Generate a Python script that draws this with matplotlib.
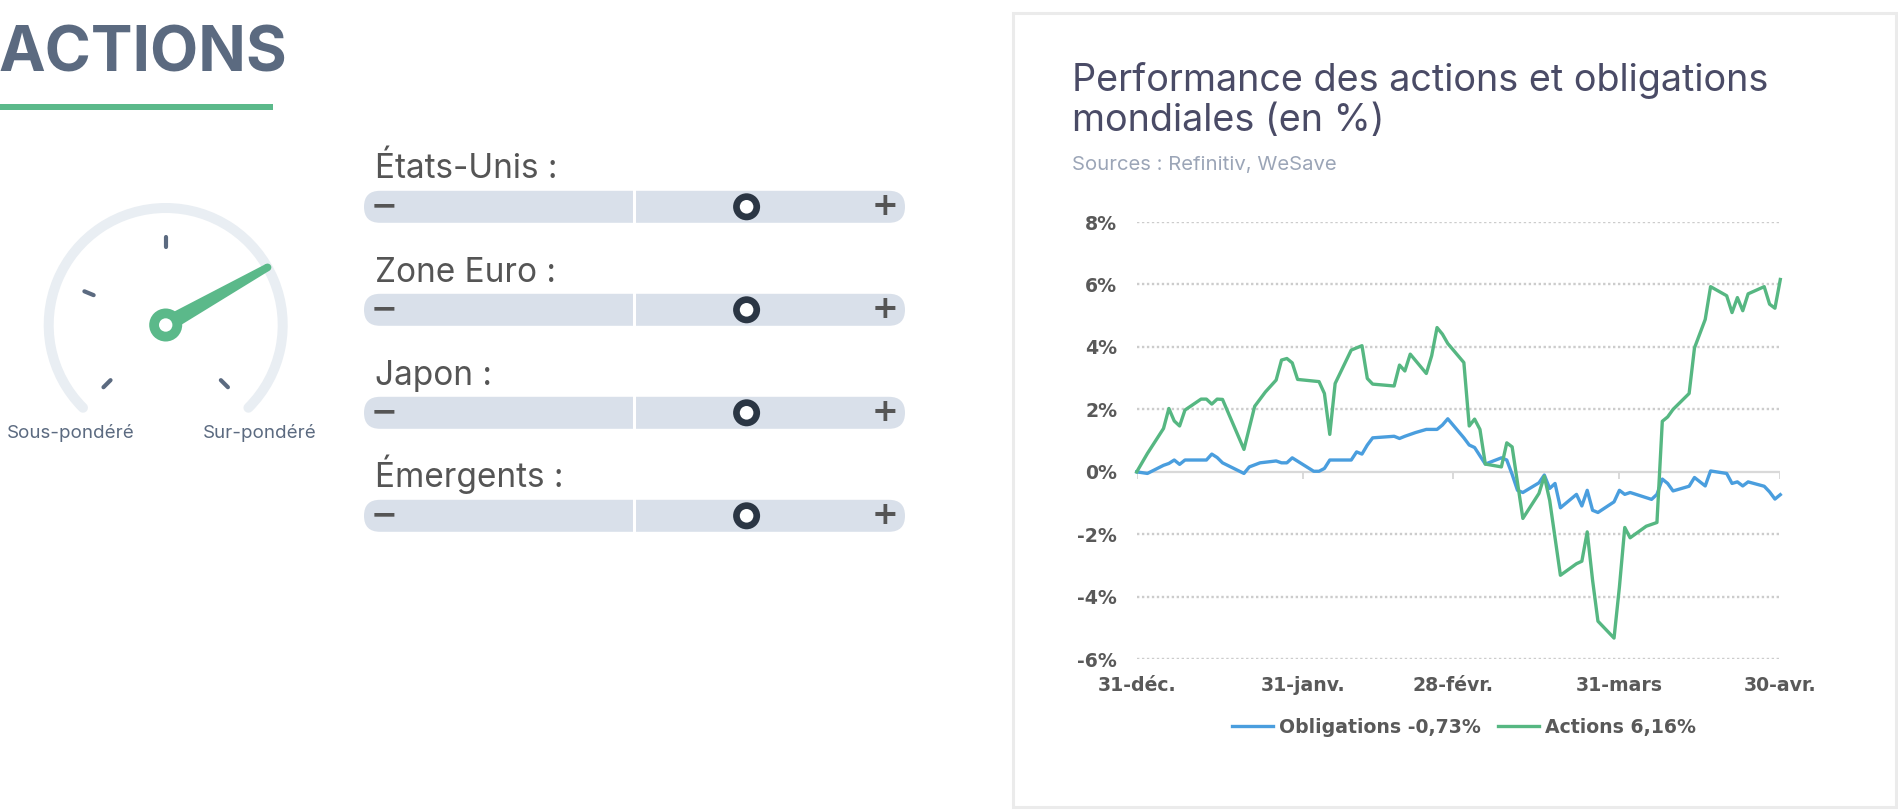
import matplotlib
matplotlib.use('Agg')
import matplotlib.pyplot as plt
from matplotlib.patches import Rectangle, FancyBboxPatch, Circle, Arc, Polygon
from matplotlib.font_manager import FontProperties
import numpy as np

# --- data (days after 31 Dec, performance in %) ---
act_days = [0, 2, 5, 6, 7, 8, 9, 12, 13, 14, 15, 16, 20, 22, 24, 26, 27, 28, 29, 30,
            34, 35, 36, 37, 40, 42, 43, 44, 48, 49, 50, 51, 54, 55, 56, 57, 58, 61, 62,
            63, 64, 65, 68, 69, 70, 72, 75, 76, 77, 79, 82, 83, 84, 85, 86, 89, 90, 91,
            92, 95, 97, 98, 99, 100, 103, 104, 106, 107, 110, 111, 112, 113, 114, 117,
            118, 119, 120]
act_vals = [0, 0.59, 1.39, 2.03, 1.63, 1.47, 1.98, 2.33, 2.33, 2.17, 2.33, 2.32, 0.72,
            2.1, 2.56, 2.94, 3.58, 3.63, 3.49, 2.96, 2.89, 2.51, 1.2, 2.83, 3.9, 4.04,
            2.99, 2.81, 2.75, 3.42, 3.23, 3.77, 3.15, 3.72, 4.62, 4.41, 4.11, 3.5, 1.47,
            1.69, 1.36, 0.25, 0.16, 0.93, 0.8, -1.49, -0.69, -0.14, -0.91, -3.31, -2.94,
            -2.86, -1.92, -3.47, -4.78, -5.32, -3.69, -1.78, -2.11, -1.74, -1.62, 1.62,
            1.76, 2.0, 2.51, 3.97, 4.88, 5.93, 5.64, 5.1, 5.58, 5.16, 5.7, 5.93, 5.37,
            5.24, 6.16]

obl_days = [0, 2, 5, 6, 7, 8, 9, 13, 14, 15, 16, 20, 21, 23, 26, 27, 28, 29, 33, 34,
            35, 36, 40, 41, 42, 43, 44, 48, 49, 50, 52, 54, 56, 57, 58, 61, 62, 63, 65,
            68, 69, 70, 71, 72, 75, 76, 77, 78, 79, 82, 83, 84, 85, 86, 89, 90, 91, 92,
            96, 97, 98, 99, 100, 103, 104, 106, 107, 110, 111, 112, 113, 114, 117, 118,
            119, 120]
obl_vals = [0, -0.05, 0.21, 0.27, 0.38, 0.24, 0.38, 0.38, 0.57, 0.46, 0.29, -0.05, 0.16,
            0.29, 0.35, 0.29, 0.29, 0.45, 0.02, 0.02, 0.11, 0.38, 0.38, 0.64, 0.57, 0.86,
            1.09, 1.14, 1.07, 1.14, 1.26, 1.36, 1.36, 1.5, 1.7, 1.09, 0.86, 0.78, 0.25,
            0.45, 0.38, -0.08, -0.59, -0.66, -0.35, -0.1, -0.53, -0.37, -1.15, -0.72,
            -1.09, -0.59, -1.23, -1.3, -0.96, -0.59, -0.72, -0.66, -0.88, -0.72, -0.23,
            -0.37, -0.61, -0.46, -0.18, -0.45, 0.03, -0.05, -0.37, -0.32, -0.45, -0.32,
            -0.46, -0.64, -0.87, -0.73]

x_ticks = [0, 31, 59, 90, 120]
x_labels = ['31-déc.', '31-janv.', '28-févr.', '31-mars', '30-avr.']
y_ticks = [-6, -4, -2, 0, 2, 4, 6, 8]
series_labels = ['Obligations -0,73%', 'Actions 6,16%']

regions = ['États-Unis :', 'Zone Euro :', 'Japon :', 'Émergents :']
gauge_ticks = [225, 157.5, 90, -45]
needle_angle = 29.5

plt.rcParams['font.family'] = ['Inter', 'DejaVu Sans']

W, H = 1898, 811
fig = plt.figure(figsize=(W / 100, H / 100), dpi=100)
fig.patch.set_facecolor('white')

# background axes in pixel units (y measured from the top through Y())
bg = fig.add_axes([0, 0, 1, 1])
bg.set_xlim(0, W)
bg.set_ylim(0, H)
bg.axis('off')


def Y(y):
    return H - y


slate = '#5b6a80'
green = '#5bb98a'

# header
bg.text(-2, Y(72), 'ACTIONS', fontsize=45, fontweight='bold', color=slate, va='baseline')
bg.add_patch(Rectangle((0, Y(110)), 273, 6, fc=green, ec='none'))

# gauge
cx, cy = 165.7, Y(325)
bg.add_patch(Arc((cx, cy), 234, 234, theta1=-45, theta2=225, color='#e9eef3',
                 lw=7.2, capstyle='round'))
for a in gauge_ticks:
    t = np.radians(a)
    bg.plot([cx + 78 * np.cos(t), cx + 88 * np.cos(t)],
            [cy + 78 * np.sin(t), cy + 88 * np.sin(t)],
            color=slate, lw=3, solid_capstyle='round')
t = np.radians(needle_angle)
ux, uy = np.cos(t), np.sin(t)
px, py = -uy, ux
tip = 117
bg.add_patch(Polygon([(cx + px * 8, cy + py * 8), (cx + ux * tip + px * 3.8, cy + uy * tip + py * 3.8),
                      (cx + ux * tip - px * 3.8, cy + uy * tip - py * 3.8), (cx - px * 8, cy - py * 8)],
                     closed=True, fc=green, ec='none'))
bg.add_patch(Circle((cx + ux * tip, cy + uy * tip), 3.8, fc=green, ec='none'))
bg.add_patch(Circle((cx, cy), 16.5, fc=green, ec='none'))
bg.add_patch(Circle((cx, cy), 6.7, fc='white', ec='none'))
bg.text(70.8, Y(438.3), 'Sous-pondéré', fontsize=13.5, color=slate, ha='center', va='baseline')
bg.text(260, Y(438.3), 'Sur-pondéré', fontsize=13.5, color=slate, ha='center', va='baseline')

# sliders
for i, name in enumerate(regions):
    mid = 206.8 + 103 * i
    base = 178.5 + 103 * i
    bg.text(375, Y(base), name, fontsize=24, color='#555555', va='baseline')
    bg.add_patch(FancyBboxPatch((364, Y(mid) - 16), 541, 32,
                                boxstyle='round,pad=0,rounding_size=16', fc='#d9e0ea', ec='none'))
    bg.plot([634, 634], [Y(mid) - 16, Y(mid) + 16], color='white', lw=2.2)
    bg.text(384.5, Y(mid), '−', fontsize=23, fontweight='bold', color='#555555',
            ha='center', va='center', family='DejaVu Sans')
    bg.text(885.3, Y(mid), '+', fontsize=23, fontweight='bold', color='#555555',
            ha='center', va='center', family='DejaVu Sans')
    bg.add_patch(Circle((746.6, Y(mid)), 13.5, fc='#2b3644', ec='none'))
    bg.add_patch(Circle((746.6, Y(mid)), 6.8, fc='white', ec='none'))

# chart card
bg.add_patch(Rectangle((1013, Y(806.7)), 883, 793.7, fc='white', ec='#ebebeb', lw=2.2))
bg.text(1071.7, Y(90.7), 'Performance des actions et obligations', fontsize=27.2,
        color='#4a4b66', va='baseline')
bg.text(1071.7, Y(130.5), 'mondiales (en %)', fontsize=27.2, color='#4a4b66', va='baseline')
bg.text(1071.7, Y(170), 'Sources : Refinitiv, WeSave', fontsize=14.6, color='#9ba5b7',
        va='baseline')

# line chart
L, R, T, B = 1136.7, 1780.3, 222, 659.3
ax = fig.add_axes([L / W, 1 - B / H, (R - L) / W, (B - T) / H])
ax.patch.set_alpha(0)
ax.set_xlim(0, 120)
ax.set_ylim(-6, 8)
for s in ax.spines.values():
    s.set_visible(False)

tick_font = FontProperties(family=['DejaVu Sans'], weight='bold', size=13.6)
for v in y_ticks:
    if v != 0:
        ax.axhline(v, color='#cccccc', lw=1.7, ls=(0, (1, 1.1)), zorder=0)
ax.axhline(0, color='#d9d9d9', lw=1.6, zorder=1)
ax.vlines(x_ticks, -0.22, 0, color='#d9d9d9', lw=1.4, zorder=1)

ax.plot(obl_days, obl_vals, color='#4a9ede', lw=2.4, label=series_labels[0], clip_on=False, zorder=3)
ax.plot(act_days, act_vals, color='#56b782', lw=2.4, label=series_labels[1], clip_on=False, zorder=3)

ax.set_yticks(y_ticks)
ax.set_yticklabels([f'{v}%' for v in y_ticks])
ax.set_xticks(x_ticks)
ax.set_xticklabels(x_labels)
ax.tick_params(axis='y', length=0, pad=14)
ax.tick_params(axis='x', length=0, pad=12)
for lab in ax.get_xticklabels() + ax.get_yticklabels():
    lab.set_fontproperties(tick_font)
    lab.set_color('#595959')

ax.legend(loc='center', bbox_to_anchor=(1464 / W, 1 - 727.3 / H), bbox_transform=fig.transFigure,
          ncol=2, frameon=False, handlelength=2.2, handletextpad=0.3, columnspacing=0.9,
          prop=tick_font, labelcolor='#595959')

fig.savefig('out.png', dpi=100, facecolor='white')
